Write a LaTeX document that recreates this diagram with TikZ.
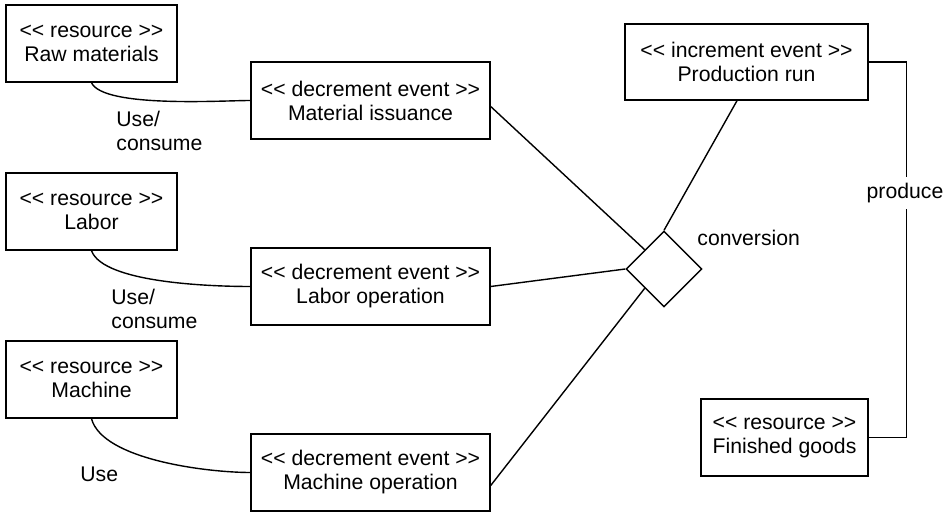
\documentclass[tikz,border=0pt]{standalone}
\usepackage{fontspec}
\setmainfont{Liberation Sans}[Ligatures=TeXOff]
\usetikzlibrary{shapes.geometric}

\begin{document}
\begin{tikzpicture}[
	x=0.5pt, y=-0.5pt,
	every node/.style={font=\fontsize{10.6}{12}\selectfont},
	link/.style={draw=black, line width=0.7pt},
	res/.style={rectangle, draw=black, line width=0.7pt, minimum width=85.5pt, minimum height=38.5pt, align=center},
	dec/.style={rectangle, draw=black, line width=0.7pt, minimum width=119.5pt, minimum height=38.5pt, align=center},
	conv/.style={diamond, draw=black, line width=0.7pt, aspect=1, minimum width=38pt, minimum height=38pt, inner sep=0pt},
	lbl/.style={align=left, inner sep=0pt}
	]
	\useasboundingbox (0,0) rectangle (952,512);
	\node[res] (raw) at (91.5,43.5) {<< resource >>\\Raw materials};
	\node[res] (labor) at (91.5,211.5) {<< resource >>\\Labor};
	\node[res] (mach) at (91.5,379.5) {<< resource >>\\Machine};
	\node[dec] (matiss) at (370.5,100.5) {<< decrement event >>\\Material issuance};
	\node[dec] (labop) at (370.5,286.5) {<< decrement event >>\\Labor operation};
	\node[dec] (machop) at (370.5,472.5) {<< decrement event >>\\Machine operation};
	\node[dec, minimum width=121.5pt, minimum height=38pt] (prodrun) at (746.5,62) {<< increment event >>\\Production run};
	\node[res, minimum width=83.5pt] (fingoods) at (784.5,437.5) {<< resource >>\\Finished goods};
	\node[conv] (conversion) at (664,269) {};

	\draw[link] (raw.south) to[out=-65, in=180, looseness=0.45] (matiss.west);
	\draw[link] (labor.south) to[out=-70, in=180, looseness=0.55] (labop.west);
	\draw[link] (mach.south) to[out=-75, in=180, looseness=0.65] (machop.west);
	\node[lbl, anchor=west] (uselbl1) at (116,130.5) {Use/\\consume};
	\node[lbl, anchor=west] (uselbl2) at (111,309) {Use/\\consume};
	\node[lbl, anchor=west] (uselbl3) at (80,474) {Use};

	\draw[link] ([yshift=-3pt]matiss.east) -- (conversion.north west);
	\draw[link] (labop.east) -- (conversion.west);
	\draw[link] ([yshift=-6.5pt]machop.east) -- (conversion.south west);
	\draw[link] ([xshift=-4.75pt]prodrun.south) -- (conversion.north);
	\node[lbl, anchor=west] (convlbl) at (697,238) {conversion};

	\draw[link] (prodrun.east) -- ++(38,0) coordinate (prodcorner) -- (prodcorner |- fingoods.east) -- (fingoods.east);
	\node[fill=white, inner sep=3pt] (prodlbl) at (905,193) {produce};
\end{tikzpicture}
\end{document}
